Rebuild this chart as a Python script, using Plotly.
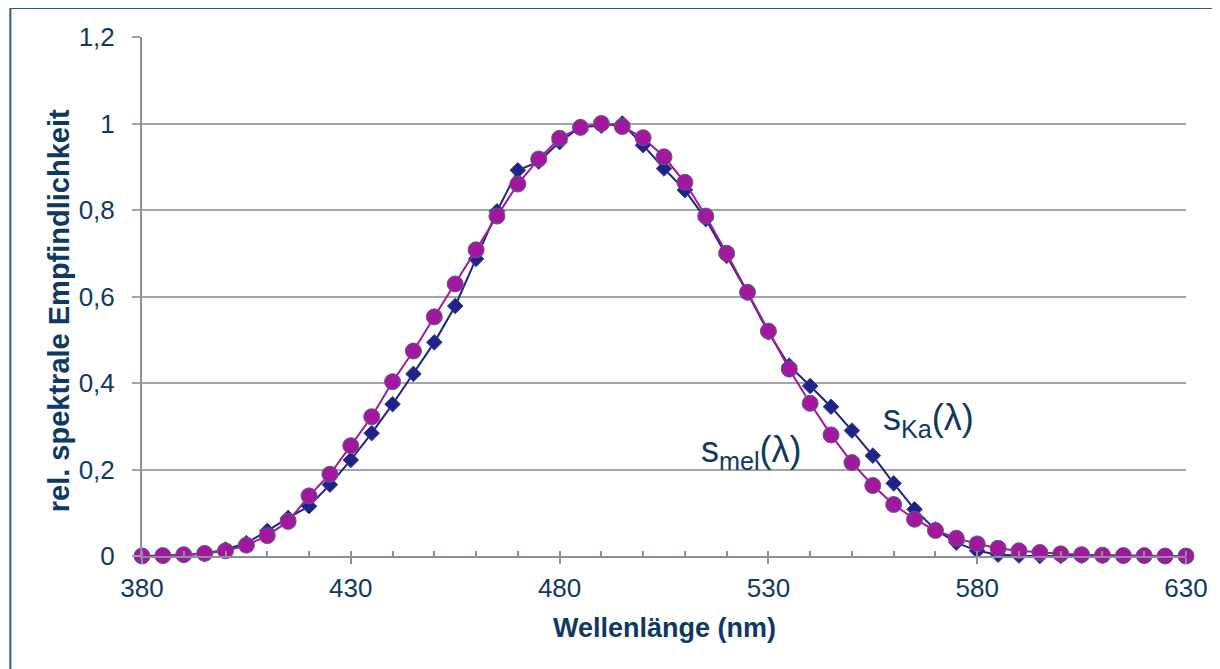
import plotly.graph_objects as go

wavelength = list(range(380, 631, 5))

s_ka = [0.0, 0.0, 0.002, 0.005, 0.015, 0.030, 0.058, 0.088, 0.115, 0.165,
        0.222, 0.284, 0.351, 0.421, 0.494, 0.578, 0.687, 0.797, 0.892, 0.912,
        0.957, 0.992, 0.995, 1.0, 0.950, 0.896, 0.846, 0.779, 0.694, 0.608,
        0.517, 0.440, 0.393, 0.345, 0.290, 0.232, 0.168, 0.108, 0.061, 0.031,
        0.012, 0.003, 0.001, 0.0, 0.0, 0.0, 0.0, 0.0, 0.0, 0.0, 0.0]

s_mel = [0.0, 0.001, 0.003, 0.006, 0.012, 0.025, 0.047, 0.080, 0.139, 0.189,
         0.255, 0.322, 0.403, 0.474, 0.553, 0.629, 0.708, 0.786, 0.860, 0.918,
         0.966, 0.991, 1.0, 0.993, 0.967, 0.923, 0.864, 0.786, 0.700, 0.610,
         0.520, 0.432, 0.353, 0.280, 0.216, 0.163, 0.119, 0.085, 0.059, 0.041,
         0.028, 0.018, 0.012, 0.008, 0.005, 0.003, 0.002, 0.001, 0.001, 0.0, 0.0]

x_title = "Wellenlänge (nm)"
y_title = "rel. spektrale Empfindlichkeit"
label_ka = "s<sub>Ka</sub>(λ)"
label_mel = "s<sub>mel</sub>(λ)"

TXT = "#0E3A62"
GRID = "#A2A4AE"
AXIS = "#8C8F9B"

# page body has an 8px margin; compensate so the plot area lands at x 142..1189, y 37..556
OFF = 8
PL, PR, PT, PB = 142, 1189, 37, 556
PW, PH = PR - PL, PB - PT


def px(x):
    return (x - PL) / PW


def py(y):
    return (PB - y) / PH


fig = go.Figure()
fig.add_trace(go.Scatter(
    x=wavelength, y=s_ka, mode="lines+markers", name="s_Ka", cliponaxis=False,
    line=dict(color="#1F2388", width=2),
    marker=dict(symbol="diamond", size=12, color="#1F2388",
                line=dict(color="#3A3F8F", width=1)),
))
fig.add_trace(go.Scatter(
    x=wavelength, y=s_mel, mode="lines+markers", name="s_mel", cliponaxis=False,
    line=dict(color="#A2189C", width=2),
    marker=dict(symbol="circle", size=16, color="#A2189C",
                line=dict(color="#5A5E8C", width=1)),
))

fig.update_layout(
    width=1220 - OFF, height=669 - OFF,
    margin=dict(l=PL - OFF, r=1220 - PR, t=PT - OFF, b=669 - PB, pad=0),
    paper_bgcolor="white", plot_bgcolor="white",
    showlegend=False,
    separators=",.",
    font=dict(family="Liberation Sans, Arial, sans-serif", color=TXT),
    xaxis=dict(
        range=[380, 630], tickmode="linear", tick0=380, dtick=50,
        ticks="outside", ticklen=6, tickwidth=1.5, tickcolor=AXIS,
        minor=dict(dtick=10, ticks="inside", ticklen=5, tickcolor=AXIS, tickwidth=1.5, showgrid=False),
        showline=True, linecolor=AXIS, linewidth=2,
        showgrid=False, zeroline=False,
        tickfont=dict(size=26, color=TXT),
        ticklabelstandoff=2,
    ),
    yaxis=dict(
        range=[0, 1.2], tickmode="linear", tick0=0, dtick=0.2,
        ticks="outside", ticklen=8, tickwidth=1.5, tickcolor=GRID,
        showline=True, linecolor=AXIS, linewidth=2,
        showgrid=True, gridcolor=GRID, gridwidth=1.5, zeroline=False,
        tickfont=dict(size=26, color=TXT),
        ticklabelstandoff=12,
    ),
    annotations=[
        dict(text="<b>" + x_title + "</b>", xref="paper", yref="paper",
             x=px(666), y=py(628), showarrow=False,
             font=dict(size=27, color=TXT), xanchor="center", yanchor="middle"),
        dict(text="<b>" + y_title + "</b>", xref="paper", yref="paper",
             x=px(59), y=py(311), showarrow=False, textangle=-90,
             font=dict(size=29, color=TXT), xanchor="center", yanchor="middle"),
        dict(text=label_ka, xref="paper", yref="paper",
             x=px(931), y=py(420), showarrow=False,
             font=dict(size=36, color=TXT), xanchor="center", yanchor="middle"),
        dict(text=label_mel, xref="paper", yref="paper",
             x=px(753), y=py(452), showarrow=False,
             font=dict(size=36, color=TXT), xanchor="center", yanchor="middle"),
    ],
    shapes=[
        dict(type="rect", xref="paper", yref="paper",
             x0=px(10), x1=px(1240),
             y0=py(690), y1=py(8),
             line=dict(color="#2E5A82", width=2), fillcolor="rgba(0,0,0,0)", layer="below"),
    ],
)

fig.write_html("out.html")
